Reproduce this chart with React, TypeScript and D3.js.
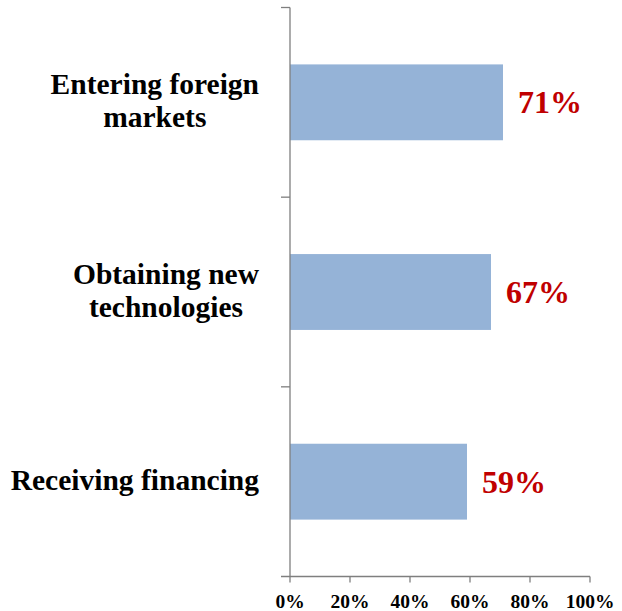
import React, { useLayoutEffect, useRef } from "react";
import * as d3 from "d3";

const categories = ["Entering foreign markets", "Obtaining new technologies", "Receiving financing"];
const categoryLines = [["Entering foreign", "markets"], ["Obtaining new", "technologies"], ["Receiving financing"]];
const values = [71, 67, 59];
const xTicks = [0, 20, 40, 60, 80, 100];

const W = 622, H = 611;
const left = 290, right = 590, top = 7.5, bottom = 576.5;
const FONT = "'Liberation Serif', 'Times New Roman', serif";

export default function App() {
  const labelsRef = useRef<SVGGElement>(null);
  const x = d3.scaleLinear().domain([0, 100]).range([left, right]);
  const y = d3.scaleBand<string>().domain(categories).range([top, bottom]).paddingInner(0.6).paddingOuter(0.3);
  const yb = d3.scaleBand<string>().domain(categories).range([top, bottom]);
  const axisColor = "#7f7f7f";

  useLayoutEffect(() => {
    const g = d3.select(labelsRef.current);
    g.selectAll("*").remove();
    const fs = 29.5, lh = 33.5;
    categories.forEach((c, i) => {
      const lines = categoryLines[i];
      const cy = (yb(c) as number) + yb.bandwidth() / 2;
      const grp = g.append("g");
      const texts = lines.map((l, j) =>
        grp.append("text")
          .attr("y", cy + (j - (lines.length - 1) / 2) * lh + fs * 0.28)
          .attr("text-anchor", "middle")
          .attr("font-family", FONT)
          .attr("font-weight", "bold")
          .attr("font-size", fs)
          .attr("fill", "#000")
          .text(l)
      );
      const widths = texts.map(t => (t.node() as SVGTextElement).getComputedTextLength());
      const maxW = Math.max(...widths);
      const rightEdge = 259;
      texts.forEach(t => t.attr("x", rightEdge - maxW / 2));
    });
  }, []);

  return (
    <svg width={W} height={H} style={{ position: "absolute", left: 0, top: 0, background: "#fff" }}>
      {categories.map((c, i) => (
        <rect key={c} x={x(0)} y={y(c)} width={x(values[i]) - x(0)} height={y.bandwidth()} fill="#95b3d7" />
      ))}
      {categories.map((c, i) => (
        <text key={c + "v"} x={x(values[i]) + 15} y={(y(c) as number) + y.bandwidth() / 2 + 11}
          fontFamily={FONT} fontWeight="bold" fontSize={32} fill="#c00000">{values[i]}%</text>
      ))}
      <line x1={left} x2={left} y1={top} y2={bottom} stroke={axisColor} strokeWidth={1.3} />
      <line x1={left - 9} x2={right} y1={bottom} y2={bottom} stroke={axisColor} strokeWidth={1.3} />
      {categories.map(c => (
        <line key={c + "t"} x1={left - 9} x2={left} y1={yb(c)} y2={yb(c)} stroke={axisColor} strokeWidth={1.3} />
      ))}
      {xTicks.map(t => (
        <g key={t}>
          <line x1={x(t)} x2={x(t)} y1={bottom} y2={bottom + 6} stroke={axisColor} strokeWidth={1.3} />
          <text x={x(t)} y={608} textAnchor="middle" fontFamily={FONT} fontWeight="bold" fontSize={19.5} fill="#000">{t}%</text>
        </g>
      ))}
      <g ref={labelsRef} />
    </svg>
  );
}
